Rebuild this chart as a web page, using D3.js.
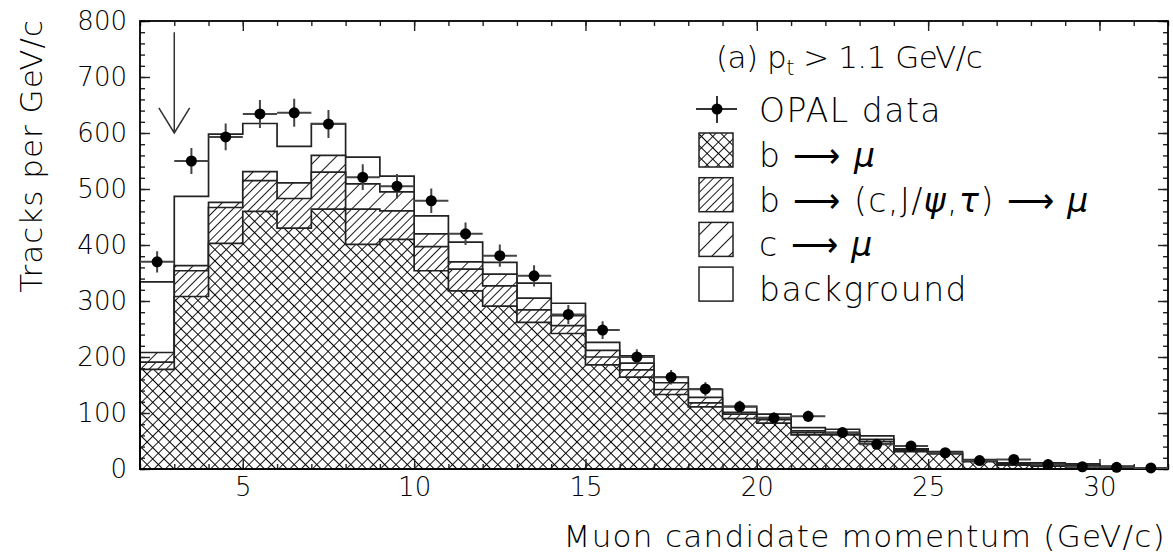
<!DOCTYPE html>
<html lang="en">
<head>
<meta charset="UTF-8">
<title>muon momentum</title>
<script src="https://cdn.jsdelivr.net/npm/d3@7/dist/d3.min.js"></script>
<style>
  body { margin: 0; background: #fff; }
  text { font-family: "DejaVu Sans", sans-serif; font-weight: 200; fill: #000; }
  .tick line { stroke: #222; stroke-width: 1.4; }
</style>
</head>
<body>
<svg id="chart" width="1173" height="557"></svg>
<script>
  // bins of 1 GeV/c, low edges
  const binLow = [2, 3, 4, 5, 6, 7, 8, 9, 10, 11, 12, 13, 14, 15, 16, 17, 18, 19, 20, 21, 22, 23, 24, 25, 26, 27, 28, 29, 30, 31];

  // OPAL data and errors
  const dataY   = [370, 550, 593, 634, 636, 616, 521, 505, 479, 420, 381, 345, 276, 248, 200, 164, 143, 111, 91, 94, 65, 44, 41, 29, 15, 17, 8, 4, 3, 2];
  const dataErr = [19, 23, 24, 25, 25, 25, 23, 22, 22, 20, 20, 19, 17, 16, 14, 13, 12, 11, 10, 10, 8, 7, 6, 5, 4, 4, 3, 2, 2, 1];

  // monte carlo components (stacked in this order)
  const bToMu      = [178, 308, 403, 460, 430, 464, 401, 410, 354, 318, 291, 262, 242, 186, 164, 133, 111, 90, 82, 61, 61, 45, 31, 27, 13, 7, 5, 4, 2, 1];
  const bToCToMu   = [13, 46, 64, 55, 53, 66, 63, 51, 43, 39, 36, 22, 14, 14, 13, 9, 7, 8, 6, 4, 1, 4, 2, 1, 1, 1, 2, 2, 1, 0.5];
  const cToMu      = [17, 9, 9, 16, 28, 30, 45, 34, 23, 13, 21, 21, 18, 12, 12, 12, 10, 3, 4, 3, 3, 4, 2, 2, 1, 1, 2, 1, 1, 0.5];
  const background = [126, 124, 122, 86, 65, 57, 48, 28, 32, 35, 21, 27, 22, 14, 13, 10, 14, 11, 6, 6, 6, 6, 1, 1, 2, 2, 2, 2, 1, 0];

  const xTicks = [5, 10, 15, 20, 25, 30];
  const yTicks = [0, 100, 200, 300, 400, 500, 600, 700, 800];

  const svg = d3.select('#chart');
  const x = d3.scaleLinear().domain([2, 32]).range([140, 1168]);
  const y = d3.scaleLinear().domain([0, 800]).range([469, 21]);

  // hatch patterns
  const defs = svg.append('defs');
  function hatch(id, size, cross) {
    const p = defs.append('pattern')
      .attr('id', id)
      .attr('patternUnits', 'userSpaceOnUse')
      .attr('width', size).attr('height', size)
      .attr('patternTransform', 'rotate(45)');
    p.append('rect').attr('width', size).attr('height', size).attr('fill', '#fff');
    p.append('path')
      .attr('d', cross ? `M0,0 V${size} M0,0 H${size}` : `M0,0 V${size}`)
      .attr('stroke', '#000').attr('stroke-width', 1.8);
  }
  hatch('pCross', 8, true);
  hatch('pDense', 6, false);
  hatch('pSparse', 12, false);

  // cumulative stacks
  const layers = [
    {vals: bToMu, fill: 'url(#pCross)'},
    {vals: bToCToMu, fill: 'url(#pDense)'},
    {vals: cToMu, fill: 'url(#pSparse)'},
    {vals: background, fill: '#fff'}
  ];
  let run = binLow.map(() => 0);
  layers.forEach(l => {
    run = run.map((r, i) => r + l.vals[i]);
    l.top = run.slice();
  });

  const area = d3.area()
    .curve(d3.curveStepAfter)
    .x(d => x(d[0]))
    .y0(y(0))
    .y1(d => y(d[1]));

  const hist = svg.append('g');
  layers.slice().reverse().forEach(l => {
    const pts = binLow.map((b, i) => [b, l.top[i]]);
    pts.push([32, l.top[l.top.length - 1]]);
    hist.append('path')
      .attr('d', area(pts))
      .attr('fill', l.fill)
      .attr('stroke', '#222')
      .attr('stroke-width', 1.7);
  });

  // ticks on all four sides, pointing in
  const tickG = svg.append('g');
  const yMinor = d3.range(0, 801, 20);
  const xMinor = d3.range(2, 33, 1);
  tickG.append('g').attr('transform', `translate(${x(2)},0)`)
    .call(d3.axisLeft(y).tickValues(yMinor).tickSize(-5).tickFormat(''));
  tickG.append('g').attr('transform', `translate(${x(2)},0)`)
    .call(d3.axisLeft(y).tickValues(yTicks).tickSize(-10).tickPadding(13).tickFormat(d3.format('d')));
  tickG.append('g').attr('transform', `translate(${x(32)},0)`)
    .call(d3.axisRight(y).tickValues(yMinor).tickSize(-5).tickFormat(''));
  tickG.append('g').attr('transform', `translate(${x(32)},0)`)
    .call(d3.axisRight(y).tickValues(yTicks).tickSize(-10).tickFormat(''));
  tickG.append('g').attr('transform', `translate(0,${y(0)})`)
    .call(d3.axisBottom(x).tickValues(xMinor).tickSize(-5).tickFormat(''));
  tickG.append('g').attr('transform', `translate(0,${y(0)})`)
    .call(d3.axisBottom(x).tickValues(xTicks).tickSize(-10).tickPadding(9).tickFormat(d3.format('d')));
  tickG.append('g').attr('transform', `translate(0,${y(800)})`)
    .call(d3.axisTop(x).tickValues(xMinor).tickSize(-5).tickFormat(''));
  tickG.append('g').attr('transform', `translate(0,${y(800)})`)
    .call(d3.axisTop(x).tickValues(xTicks).tickSize(-10).tickFormat(''));
  tickG.selectAll('.domain').remove();
  tickG.selectAll('text')
    .attr('font-family', '"DejaVu Sans", sans-serif')
    .attr('font-size', 26)
    .attr('fill', '#000');

  // frame
  svg.append('rect')
    .attr('x', x(2)).attr('y', y(800))
    .attr('width', x(32) - x(2)).attr('height', y(0) - y(800))
    .attr('fill', 'none').attr('stroke', '#000').attr('stroke-width', 1.8);

  // arrow marking the cut at 3 GeV/c
  const arrowX = 3, arrowTop = 780, arrowTip = 600, headY = 645, headHalf = 0.45;
  svg.append('path')
    .attr('d', `M${x(arrowX)},${y(arrowTop)} V${y(arrowTip)} M${x(arrowX - headHalf)},${y(headY)} L${x(arrowX)},${y(arrowTip)} L${x(arrowX + headHalf)},${y(headY)}`)
    .attr('fill', 'none').attr('stroke', '#333').attr('stroke-width', 1.5);

  // data points
  const pts = svg.append('g');
  binLow.forEach((b, i) => {
    const cx = b + 0.5;
    pts.append('path')
      .attr('d', `M${x(b)},${y(dataY[i])} H${x(b + 1)} M${x(cx)},${y(dataY[i] - dataErr[i])} V${y(dataY[i] + dataErr[i])}`)
      .attr('stroke', '#444').attr('stroke-width', 2);
    pts.append('circle')
      .attr('cx', x(cx)).attr('cy', y(dataY[i])).attr('r', 5.5)
      .attr('fill', '#000');
  });

  // axis titles
  svg.append('text')
    .attr('x', 1166).attr('y', 547)
    .attr('text-anchor', 'end')
    .attr('font-size', 31)
    .attr('letter-spacing', 1.3)
    .text('Muon candidate momentum (GeV/c)');
  svg.append('text')
    .attr('transform', 'translate(42,19) rotate(-90)')
    .attr('text-anchor', 'end')
    .attr('font-size', 31)
    .attr('letter-spacing', 1)
    .text('Tracks per GeV/c');

  // legend
  const lg = svg.append('g').attr('font-size', 33).attr('letter-spacing', 1.5);
  const head = lg.append('text').attr('x', 716).attr('y', 68).attr('font-size', 31).attr('letter-spacing', -0.5);
  head.append('tspan').text('(a) p');
  head.append('tspan').attr('dy', 7).attr('font-size', 21).text('t');
  head.append('tspan').attr('dy', -7).text(' > 1.1 GeV/c');

  lg.append('path')
    .attr('d', 'M696,109 H737 M717,96 V123')
    .attr('stroke', '#333').attr('stroke-width', 2);
  lg.append('circle').attr('cx', 717).attr('cy', 109).attr('r', 5.5).attr('fill', '#000');
  lg.append('text').attr('x', 759).attr('y', 122).text('OPAL data');

  const entries = [
    {fill: 'url(#pCross)', parts: [['b ⟶ ', false], ['μ', true]]},
    {fill: 'url(#pDense)', parts: [['b ⟶ (c,J/', false], ['ψ', true], [',', false], ['τ', true], [') ⟶ ', false], ['μ', true]]},
    {fill: 'url(#pSparse)', parts: [['c ⟶ ', false], ['μ', true]]},
    {fill: '#fff', parts: [['background', false]]}
  ];
  entries.forEach((e, i) => {
    const top = 133 + i * 44.7;
    lg.append('rect')
      .attr('x', 699).attr('y', top).attr('width', 34).attr('height', 34)
      .attr('fill', e.fill).attr('stroke', '#222').attr('stroke-width', 1.5);
    const t = lg.append('text').attr('x', 759).attr('y', top + 34);
    e.parts.forEach(p => {
      t.append('tspan').attr('font-style', p[1] ? 'italic' : null).text(p[0]);
    });
  });
</script>
</body>
</html>
